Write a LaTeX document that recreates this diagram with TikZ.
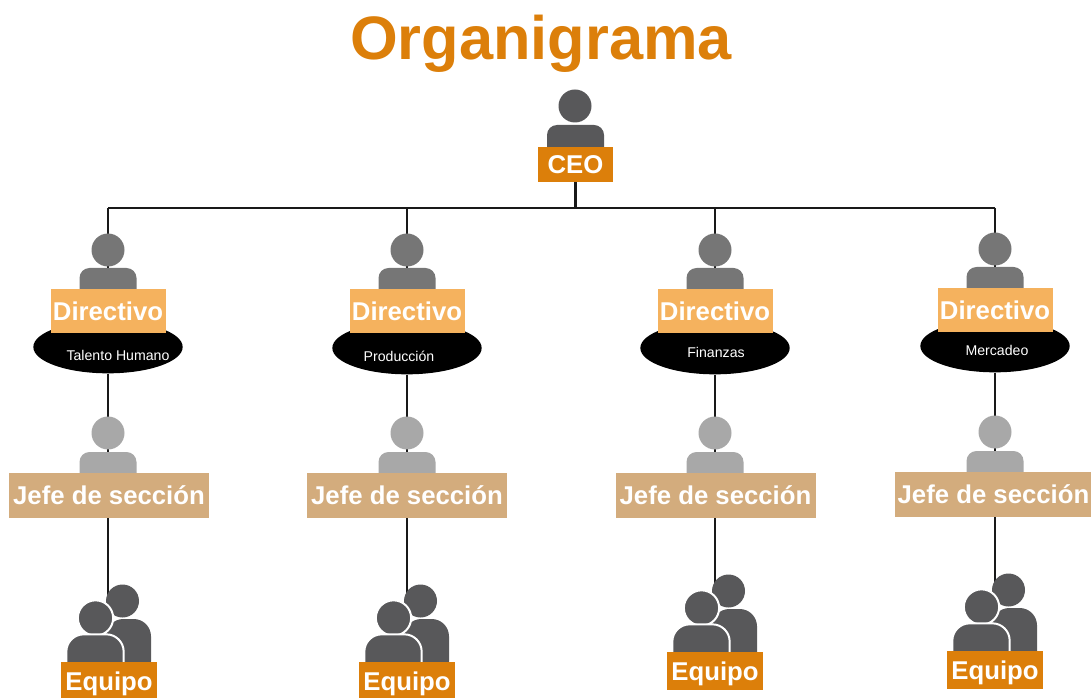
\documentclass[tikz,border=0pt]{standalone}
\usepackage{fontspec}
\setmainfont{Liberation Sans}
\usepackage{xcolor}
\usetikzlibrary{positioning,backgrounds,shapes.geometric}
\definecolor{naranja}{HTML}{DC7F0A}
\definecolor{claro}{HTML}{F5B25E}
\definecolor{arena}{HTML}{D3AC7D}
\definecolor{oscuro}{HTML}{58585A}
\definecolor{medio}{HTML}{767676}
\definecolor{gris}{HTML}{A8A8A8}

\begin{document}
\begin{tikzpicture}[
    x=0.75pt, y=-0.75pt,
    head/.style={circle, fill=#1, inner sep=0pt, minimum size=24.75pt},
    torso/.style={rectangle, fill=#1, inner sep=0pt, minimum width=42.75pt, minimum height=30pt, rounded corners=7.5pt},
    tag/.style={rectangle, fill=#1, inner sep=0pt, text=white, font=\fontsize{19.3}{19.3}\selectfont\bfseries},
    area/.style={ellipse, fill=black, inner sep=0pt, minimum width=112pt, minimum height=39.5pt},
    arealabel/.style={text=white, inner sep=0pt, font=\fontsize{10.6}{10.6}\selectfont},
    front/.style={draw=white, line width=1.5pt},
    line/.style={draw=black!90, line width=1.6pt}
]
\useasboundingbox (0,0) rectangle (1091,698);

\node [text=naranja, font=\fontsize{46}{46}\selectfont\bfseries] (title) at (541,44) {Organigrama};

% CEO
\node [head=oscuro] (ceohead) at (575,106) {};
\node [torso=oscuro] (ceotorso) at (575.5,145) {};
\node [tag=naranja, minimum width=56.25pt, minimum height=26.25pt] (ceo) at (575.5,164.5) {CEO};
\coordinate (barleft) at (108,208);
\coordinate (barright) at (995,208);

% one column for each area
\foreach \n/\x/\ydir/\yell/\lab/\lx/\ly/\yjefe/\wjefe/\xjefe/\xteam/\yteam in {
    1/108/311/347/Talento Humano/118/355/495.5/150/109/109/681,
    2/407/311/348/Producción/399/356/495.5/150/407/407/681,
    3/715/311/348/Finanzas/716/352/495.5/150/715.5/715/671,
    4/995/310/346/Mercadeo/997/350/494.5/147.5/993.5/995/670}{
  \node [area] (area\n) at (\x,\yell) {};
  \node [head=medio] (dirhead\n) at (\x,\ydir-61) {};
  \node [torso=medio] (dirtorso\n) at (\x,\ydir-23) {};
  \node [tag=claro, minimum width=86.25pt, minimum height=33pt] (dir\n) at (\x,\ydir) {Directivo};
  \node [arealabel] (arealab\n) at (\lx,\ly) {\lab};
  \node [head=gris] (jefehead\n) at (\x,\yjefe-62.5) {};
  \node [torso=gris] (jefetorso\n) at (\x,\yjefe-23.5) {};
  \node [tag=arena, minimum width=\wjefe pt, minimum height=33.75pt] (jefe\n) at (\xjefe,\yjefe) {Jefe de sección};
  \node [head=oscuro] (backhead\n) at (\xteam+13.5,\yteam-80) {};
  \node [torso=oscuro, minimum width=33.75pt, minimum height=45pt, rounded corners=13pt] (backtorso\n) at (\xteam+19.5,\yteam-32) {};
  \node [head=oscuro, front, minimum size=26.5pt] (fronthead\n) at (\xteam-13.5,\yteam-63) {};
  \node [torso=oscuro, front, minimum width=43pt, minimum height=40pt, rounded corners=13pt] (fronttorso\n) at (\xteam-14,\yteam-20) {};
  \node [tag=naranja, minimum width=72pt, minimum height=28.5pt, text depth=0pt] (team\n) at (\xteam,\yteam) {Equipo};
  \begin{scope}[on background layer]
    \path [line] (dir\n |- barleft) -- (dir\n);
    \path [line] (area\n) -- (jefe\n -| area\n);
    \path [line] (jefe\n -| area\n) -- (area\n |- backhead\n);
  \end{scope}
}

\begin{scope}[on background layer]
  \path [line] (barleft) -- (barright);
  \path [line] (ceo) -- (ceo |- barleft);
\end{scope}

\end{tikzpicture}
\end{document}
